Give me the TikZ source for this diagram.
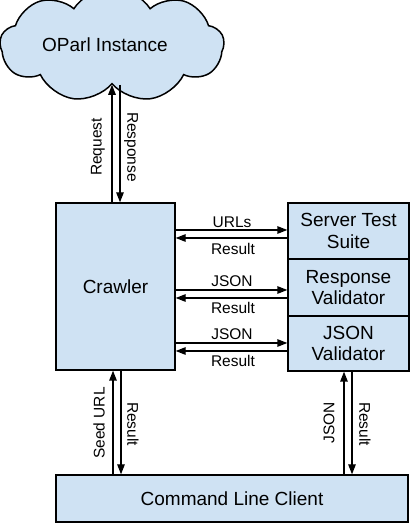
\documentclass[tikz,border=0pt]{standalone}
\usepackage{fontspec}
\setmainfont{Liberation Sans}
\usetikzlibrary{shapes.symbols,arrows.meta,calc}
\definecolor{boxblue}{HTML}{CFE2F3}
\begin{document}
\begin{tikzpicture}[x=1pt,y=1pt,
  box/.style={draw=black,line width=1.3pt,fill=boxblue,inner sep=0pt,align=center,font=\fontsize{19}{21.5}\selectfont},
  lbl/.style={font=\fontsize{15.5}{18}\selectfont,inner sep=0pt},
  arr/.style={line width=1.3pt,-{Triangle[length=10pt,width=7.5pt]}}]
\useasboundingbox (0,0) rectangle (411,525);
\node[box,minimum width=119pt,minimum height=167pt] (crawler) at (115.5,238.5) {Crawler};
\node[box,minimum width=121pt,minimum height=56pt] (sts) at (348.5,294) {Server Test\\Suite};
\node[box,minimum width=121pt,minimum height=57pt] (rv) at (348.5,237.5) {Response\\Validator};
\node[box,minimum width=121pt,minimum height=55pt] (jv) at (348.5,181.5) {JSON\\Validator};
\node[box,minimum width=352pt,minimum height=47pt] (clc) at (232,26.5) {Command Line Client};
\node[box,line width=1.5pt,cloud,cloud puffs=9,cloud puff arc=115,aspect=2.4,minimum width=224pt,minimum height=90pt] (cloud) at (112,480) {OParl Instance\hspace*{14pt}};
% crawler <-> cloud
\draw[arr] (crawler.north -| 112,0) -- (cloud.south -| 112,0);
\draw[arr] (cloud.south -| 120,0) -- (crawler.north -| 120,0);
\node[lbl,rotate=90] (lreq) at (98,378) {Request};
\node[lbl,rotate=-90] (lresp) at (131,378) {Response};
% crawler <-> right boxes
\draw[arr] (crawler.east |- 0,295) -- (sts.west |- 0,295);
\draw[arr] (sts.west |- 0,287) -- (crawler.east |- 0,287);
\draw[arr] (crawler.east |- 0,235) -- (rv.west |- 0,235);
\draw[arr] (rv.west |- 0,227) -- (crawler.east |- 0,227);
\draw[arr] (crawler.east |- 0,182) -- (jv.west |- 0,182);
\draw[arr] (jv.west |- 0,174) -- (crawler.east |- 0,174);
\node[lbl] (l1) at (232,303) {URLs};
\node[lbl] (l2) at (233,276) {Result};
\node[lbl] (l3) at (232,244) {JSON};
\node[lbl] (l4) at (233,217.5) {Result};
\node[lbl] (l5) at (232,191) {JSON};
\node[lbl] (l6) at (233,164) {Result};
% client <-> crawler
\draw[arr] (clc.north -| 113,0) -- (crawler.south -| 113,0);
\draw[arr] (crawler.south -| 121,0) -- (clc.north -| 121,0);
\node[lbl,rotate=90] (l7) at (99,102) {Seed URL};
\node[lbl,rotate=-90] (l8) at (133,101) {Result};
% client <-> json validator
\draw[arr] (clc.north -| 344,0) -- (jv.south -| 344,0);
\draw[arr] (jv.south -| 352,0) -- (clc.north -| 352,0);
\node[lbl,rotate=90] (l9) at (329,102) {JSON};
\node[lbl,rotate=-90] (l10) at (365,101) {Result};
\end{tikzpicture}
\end{document}
